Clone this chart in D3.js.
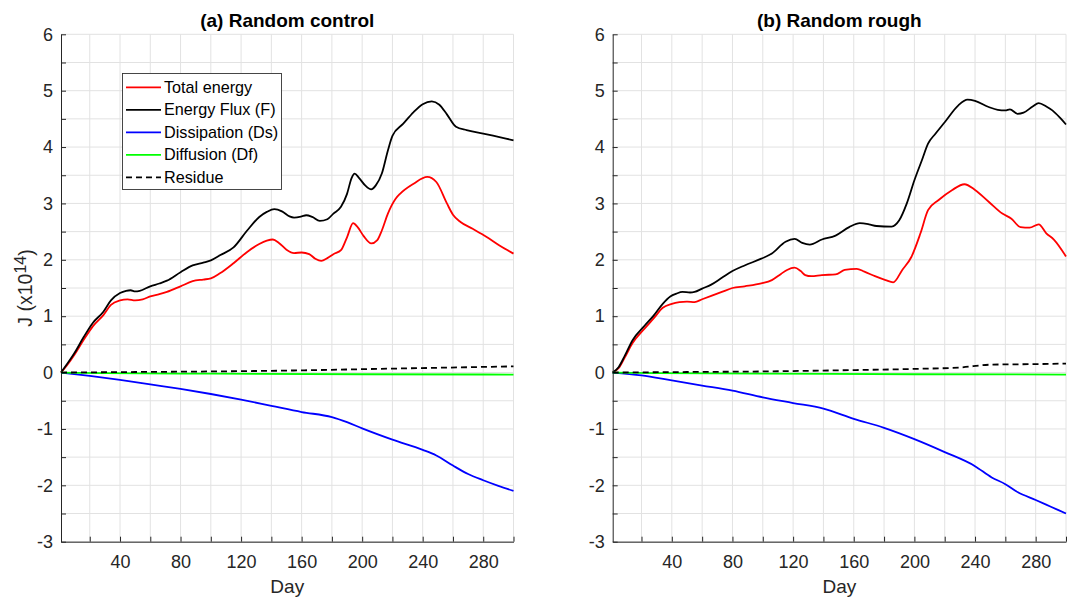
<!DOCTYPE html>
<html>
<head>
<meta charset="utf-8">
<script src="https://cdn.jsdelivr.net/npm/d3@7"></script>
<style>
  html, body { margin: 0; padding: 0; background: #fff; }
  svg { display: block; font-family: "Liberation Sans", Arial, Helvetica, sans-serif; }
</style>
</head>
<body>
<svg id="chart" width="1090" height="605"></svg>
<script>
// ---------------- DATA ----------------
const panelTitles = ["(a) Random control", "(b) Random rough"];
const legendLabels = ["Total energy", "Energy Flux (F)", "Dissipation (Ds)", "Diffusion (Df)", "Residue"];
const xTickValues = [20, 40, 60, 80, 100, 120, 140, 160, 180, 200, 220, 240, 260, 280, 300];
const xTickLabels = [40, 80, 120, 160, 200, 240, 280];
const yTickValues = [-3, -2.5, -2, -1.5, -1, -0.5, 0, 0.5, 1, 1.5, 2, 2.5, 3, 3.5, 4, 4.5, 5, 5.5, 6];
const yTickLabels = [-3, -2, -1, 0, 1, 2, 3, 4, 5, 6];

// Panel (a) Random control
const aTotalDays = [1, 5, 10, 16, 22, 29, 34, 40, 45, 50, 55, 60, 66, 71, 80, 88, 95, 100, 106, 115, 124, 132, 137, 141, 145, 150, 155, 160, 165, 169, 173, 177, 181, 186, 190, 194, 197, 201, 206, 210, 213, 217, 222, 225, 234, 243, 249, 256, 260, 265, 273, 282, 291, 300];
const aTotalVals = [0, 0.13, 0.32, 0.58, 0.82, 1.02, 1.2, 1.28, 1.3, 1.28, 1.3, 1.35, 1.39, 1.43, 1.53, 1.62, 1.65, 1.67, 1.76, 1.94, 2.14, 2.28, 2.34, 2.36, 2.3, 2.18, 2.12, 2.13, 2.1, 2.02, 1.98, 2.03, 2.1, 2.17, 2.4, 2.65, 2.58, 2.42, 2.29, 2.35, 2.52, 2.82, 3.08, 3.17, 3.35, 3.47, 3.38, 3.0, 2.8, 2.67, 2.55, 2.41, 2.25, 2.11];
const aFluxDays = [1, 5, 10, 16, 22, 29, 34, 40, 44, 47, 50, 53, 60, 66, 71, 80, 88, 95, 100, 106, 115, 124, 132, 137, 142, 147, 152, 155, 160, 163, 167, 172, 177, 181, 186, 190, 193, 195, 198, 202, 206, 209, 213, 217, 220, 227, 234, 240, 246, 251, 256, 262, 269, 280, 290, 300];
const aFluxVals = [0, 0.15, 0.35, 0.63, 0.88, 1.08, 1.28, 1.41, 1.45, 1.46, 1.44, 1.45, 1.53, 1.58, 1.63, 1.78, 1.9, 1.95, 1.99, 2.08, 2.22, 2.52, 2.76, 2.85, 2.9, 2.86, 2.77, 2.75, 2.77, 2.79, 2.76, 2.69, 2.72, 2.82, 2.94, 3.17, 3.45, 3.53, 3.45, 3.32, 3.25, 3.32, 3.53, 3.94, 4.2, 4.41, 4.62, 4.76, 4.81, 4.75, 4.58, 4.36, 4.3, 4.24, 4.18, 4.12];
const aDissDays = [1, 20, 40, 60, 80, 100, 120, 140, 160, 180, 190, 200, 220, 240, 249, 260, 270, 280, 290, 300];
const aDissVals = [0, -0.06, -0.13, -0.21, -0.29, -0.38, -0.48, -0.59, -0.7, -0.79, -0.88, -0.99, -1.19, -1.37, -1.47, -1.65, -1.8, -1.91, -2.01, -2.1];
const aDiffDays = [1, 30, 100, 200, 300];
const aDiffVals = [0, -0.01, -0.02, -0.03, -0.035];
const aResDays = [1, 50, 100, 150, 200, 250, 300];
const aResVals = [0, 0.01, 0.02, 0.035, 0.06, 0.085, 0.11];

// Panel (b) Random rough
const bTotalDays = [1, 5, 9, 14, 22, 28, 34, 40, 45, 50, 55, 60, 66, 73, 80, 88, 99, 106, 112, 116, 121, 125, 128, 132, 139, 148, 154, 162, 167, 174, 181, 186, 192, 198, 204, 209, 216, 225, 233, 240, 249, 258, 264, 270, 276, 282, 287, 292, 300];
const bTotalVals = [0, 0.08, 0.27, 0.52, 0.78, 0.96, 1.15, 1.22, 1.25, 1.26, 1.25, 1.3, 1.36, 1.43, 1.5, 1.53, 1.58, 1.64, 1.75, 1.82, 1.86, 1.8, 1.73, 1.71, 1.73, 1.74, 1.82, 1.84, 1.79, 1.71, 1.64, 1.6, 1.82, 2.05, 2.47, 2.88, 3.06, 3.24, 3.34, 3.24, 3.03, 2.82, 2.73, 2.58, 2.57, 2.63, 2.47, 2.36, 2.06];
const bFluxDays = [1, 5, 9, 14, 22, 28, 34, 39, 43, 47, 52, 55, 60, 66, 73, 80, 88, 99, 106, 115, 121, 126, 131, 139, 148, 157, 164, 170, 175, 185, 190, 195, 200, 205, 209, 214, 220, 229, 235, 240, 249, 255, 260, 263, 268, 272, 278, 282, 287, 291, 296, 300];
const bFluxVals = [0, 0.1, 0.3, 0.57, 0.83, 1.01, 1.22, 1.35, 1.4, 1.43, 1.42, 1.43, 1.49, 1.56, 1.68, 1.8, 1.9, 2.02, 2.11, 2.32, 2.37, 2.3, 2.27, 2.36, 2.43, 2.58, 2.65, 2.63, 2.6, 2.59, 2.7, 3.0, 3.41, 3.77, 4.06, 4.24, 4.44, 4.74, 4.84, 4.82, 4.71, 4.66, 4.65, 4.67, 4.59, 4.61, 4.72, 4.78, 4.72, 4.65, 4.52, 4.4];
const bDissDays = [1, 20, 40, 60, 80, 100, 120, 140, 160, 180, 200, 220, 240, 251, 260, 268, 280, 290, 300];
const bDissVals = [0, -0.05, -0.14, -0.23, -0.32, -0.44, -0.54, -0.64, -0.82, -0.98, -1.18, -1.41, -1.66, -1.86, -1.98, -2.12, -2.26, -2.38, -2.5];
const bDiffDays = [1, 30, 100, 200, 300];
const bDiffVals = [0, -0.01, -0.02, -0.03, -0.035];
const bResDays = [1, 50, 100, 150, 200, 230, 250, 280, 300];
const bResVals = [0, 0.01, 0.02, 0.04, 0.065, 0.09, 0.14, 0.15, 0.16];

// ---------------- DRAW ----------------
const svg = d3.select("#chart");
svg.append("rect").attr("width", 1090).attr("height", 605).attr("fill", "#fff");

const colors = ["#ff0000", "#000000", "#0000ff", "#00ff00", "#000000"];
const dashes = [null, null, null, null, "6,4"];
const axisColor = "#262626";
const gridColor = "#e2e2e2";

const panels = [
  { title: panelTitles[0], xr: [61, 513.5], series: [[aTotalDays, aTotalVals], [aFluxDays, aFluxVals], [aDissDays, aDissVals], [aDiffDays, aDiffVals], [aResDays, aResVals]], legend: true, ylabel: true },
  { title: panelTitles[1], xr: [612.7, 1066], series: [[bTotalDays, bTotalVals], [bFluxDays, bFluxVals], [bDissDays, bDissVals], [bDiffDays, bDiffVals], [bResDays, bResVals]], legend: false, ylabel: false }
];

const yRange = [541.7, 34.3];

panels.forEach(p => {
  const x = d3.scaleLinear().domain([1, 300]).range(p.xr);
  const y = d3.scaleLinear().domain([-3, 6]).range(yRange);
  const g = svg.append("g");

  // grid
  g.append("g").selectAll("line.vg").data(xTickValues).join("line")
    .attr("x1", d => x(d)).attr("x2", d => x(d))
    .attr("y1", yRange[0]).attr("y2", yRange[1])
    .attr("stroke", gridColor).attr("stroke-width", 1);
  g.append("g").selectAll("line.hg").data(yTickValues).join("line")
    .attr("x1", p.xr[0]).attr("x2", p.xr[1])
    .attr("y1", d => y(d)).attr("y2", d => y(d))
    .attr("stroke", gridColor).attr("stroke-width", 1);

  // axes
  const xAxis = d3.axisBottom(x).tickValues(xTickValues).tickSizeInner(-5).tickSizeOuter(0).tickPadding(13.5)
    .tickFormat(d => xTickLabels.includes(d) ? d : "");
  const yAxis = d3.axisLeft(y).tickValues(yTickValues).tickSizeInner(-5).tickSizeOuter(0).tickPadding(8)
    .tickFormat(d => yTickLabels.includes(d) ? d : "");

  const gx = g.append("g").attr("transform", `translate(0,${yRange[0]})`).call(xAxis);
  const gy = g.append("g").attr("transform", `translate(${p.xr[0]},0)`).call(yAxis);
  [gx, gy].forEach(a => {
    a.selectAll("path, line").attr("stroke", axisColor).attr("stroke-width", 1);
    a.selectAll("text").attr("fill", axisColor).style("font-size", "18px")
      .style("font-family", '"Liberation Sans", Arial, sans-serif');
  });

  // lines
  p.series.forEach((s, i) => {
    const pts = s[0].map((d, k) => [d, s[1][k]]);
    const line = d3.line().x(d => x(d[0])).y(d => y(d[1])).curve(d3.curveMonotoneX);
    g.append("path").datum(pts).attr("d", line)
      .attr("fill", "none").attr("stroke", colors[i]).attr("stroke-width", 1.8)
      .attr("stroke-dasharray", dashes[i]).attr("stroke-linejoin", "round");
  });

  // title
  const cx = (p.xr[0] + p.xr[1]) / 2;
  g.append("text").attr("x", cx).attr("y", 27).attr("text-anchor", "middle")
    .style("font-weight", "bold").style("font-size", "19px").attr("fill", "#000").text(p.title);

  // x label
  g.append("text").attr("x", cx).attr("y", 593).attr("text-anchor", "middle")
    .style("font-size", "19px").attr("fill", axisColor).text("Day");

  // y label
  if (p.ylabel) {
    const t = g.append("text").attr("transform", "translate(32,288) rotate(-90)")
      .attr("text-anchor", "middle").style("font-size", "19.5px").attr("fill", axisColor);
    t.append("tspan").text("J (x10");
    t.append("tspan").attr("dy", "-0.4em").style("font-size", "16px").text("14");
    t.append("tspan").attr("dy", "0.4em").text(")");
  }

  // legend
  if (p.legend) {
    const lg = g.append("g");
    lg.append("rect").attr("x", 122.5).attr("y", 73.5).attr("width", 159).attr("height", 116)
      .attr("fill", "#fff").attr("stroke", "#333").attr("stroke-width", 0.9);
    legendLabels.forEach((lab, i) => {
      const yy = 87.3 + i * 22.5;
      lg.append("line").attr("x1", 126).attr("x2", 161).attr("y1", yy).attr("y2", yy)
        .attr("stroke", colors[i]).attr("stroke-width", 1.8).attr("stroke-dasharray", dashes[i]);
      lg.append("text").attr("x", 164).attr("y", yy).attr("dy", "0.35em")
        .style("font-size", "16.2px").attr("fill", "#000").text(lab);
    });
  }
});
</script>
</body>
</html>
